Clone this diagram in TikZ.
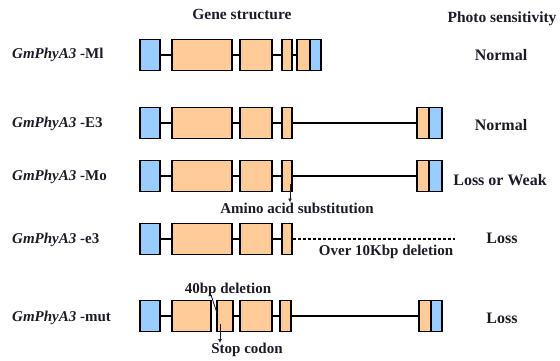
\documentclass[tikz,border=0pt]{standalone}
\usepackage{fontspec}
\setmainfont{Liberation Serif}
\usetikzlibrary{arrows.meta}
\definecolor{exonor}{HTML}{FFCC99}
\definecolor{utrblue}{HTML}{99CCFF}
\definecolor{txt}{HTML}{1E1A2A}
\tikzset{
  exon/.style={draw=black, line width=1.6pt, fill=exonor, minimum height=31pt, inner sep=0pt},
  utr/.style={exon, fill=utrblue},
  intron/.style={draw=black, line width=1.3pt},
  lbl/.style={font=\fontsize{15}{17}\selectfont\bfseries, text=txt, anchor=west, inner sep=0pt},
  hdr/.style={font=\fontsize{15.5}{17}\selectfont\bfseries, text=txt, inner sep=0pt},
  phen/.style={font=\fontsize{16}{18}\selectfont\bfseries, text=txt, inner sep=0pt},
  note/.style={font=\fontsize{15}{17}\selectfont\bfseries, text=txt, inner sep=0pt},
  pointer/.style={draw=txt, line width=0.9pt, -{Latex[length=4pt,width=4pt]}}
}
\begin{document}
\begin{tikzpicture}[x=1pt,y=-1pt]
\useasboundingbox (0,0) rectangle (560,361);
% headers
\node[hdr] (h1) at (242,14) {Gene structure};
\node[hdr] (h2) at (502,19) {Photo sensitivity};
% row labels
\node[lbl] (l1) at (12,55) {\textit{GmPhyA3} -Ml};
\node[lbl] (l2) at (12,124) {\textit{GmPhyA3} -E3};
\node[lbl] (l3) at (12,177) {\textit{GmPhyA3} -Mo};
\node[lbl] (l4) at (12,240) {\textit{GmPhyA3} -e3};
\node[lbl] (l5) at (12,318) {\textit{GmPhyA3} -mut};
% phenotypes
\node[phen] (p1) at (501,55) {Normal};
\node[phen] (p2) at (501,125) {Normal};
\node[phen] (p3) at (500,180) {Loss or Weak};
\node[phen] (p4) at (502,238) {Loss};
\node[phen] (p5) at (502,318) {Loss};
% row 1
\node[utr,  minimum width=20pt] (b1a) at (150,55) {};
\node[exon, minimum width=60pt] (o1a) at (202,55) {};
\node[exon, minimum width=32pt] (o1b) at (256,55) {};
\node[exon, minimum width=10pt] (o1c) at (287,55) {};
\node[exon, minimum width=13pt] (o1d) at (303.5,55) {};
\node[utr,  minimum width=11pt] (b1b) at (315.5,55) {};
\draw[intron] (b1a.east) -- (o1a.west) (o1a.east) -- (o1b.west) (o1b.east) -- (o1c.west) (o1c.east) -- (o1d.west);
% row 2
\node[utr,  minimum width=20pt] (b2a) at (150,123) {};
\node[exon, minimum width=60pt] (o2a) at (202,123) {};
\node[exon, minimum width=32pt] (o2b) at (256,123) {};
\node[exon, minimum width=10pt] (o2c) at (287,123) {};
\node[exon, minimum width=12pt] (o2d) at (423,123) {};
\node[utr,  minimum width=13pt] (b2b) at (435.5,123) {};
\draw[intron] (b2a.east) -- (o2a.west) (o2a.east) -- (o2b.west) (o2b.east) -- (o2c.west) (o2c.east) -- (o2d.west);
% row 3
\node[utr,  minimum width=20pt] (b3a) at (150,176) {};
\node[exon, minimum width=60pt] (o3a) at (202,176) {};
\node[exon, minimum width=32pt] (o3b) at (256,176) {};
\node[exon, minimum width=10pt] (o3c) at (287,176) {};
\node[exon, minimum width=12pt] (o3d) at (423,176) {};
\node[utr,  minimum width=13pt] (b3b) at (435.5,176) {};
\draw[intron] (b3a.east) -- (o3a.west) (o3a.east) -- (o3b.west) (o3b.east) -- (o3c.west) (o3c.east) -- (o3d.west);
\coordinate (aa0) at (290,184);
\node[note] (aa) at (297,208) {Amino acid substitution};
\draw[pointer] (aa0) -- (aa.north -| aa0);
% row 4
\node[utr,  minimum width=20pt] (b4a) at (150,239) {};
\node[exon, minimum width=60pt] (o4a) at (202,239) {};
\node[exon, minimum width=32pt] (o4b) at (256,239) {};
\node[exon, minimum width=10pt] (o4c) at (287,239) {};
\draw[intron] (b4a.east) -- (o4a.west) (o4a.east) -- (o4b.west) (o4b.east) -- (o4c.west);
\coordinate (del) at (455,239);
\draw[intron, dashed, dash pattern=on 3pt off 2pt] (o4c.east) -- (del);
\node[note] (ov) at (386,252) {Over 10Kbp deletion};
% row 5
\node[utr,  minimum width=20pt] (b5a) at (150,316) {};
\node[exon, minimum width=39pt] (o5a) at (191.5,316) {};
\node[exon, minimum width=16pt] (o5b) at (225,316) {};
\node[exon, minimum width=32pt] (o5c) at (256,316) {};
\node[exon, minimum width=11pt] (o5d) at (285.5,316) {};
\node[exon, minimum width=12pt] (o5e) at (425,316) {};
\node[utr,  minimum width=11pt] (b5b) at (436.5,316) {};
\draw[intron] (b5a.east) -- (o5a.west) (o5b.east) -- (o5c.west) (o5c.east) -- (o5d.west) (o5d.east) -- (o5e.west);
\node[note] (d40) at (228,290) {40bp deletion};
\coordinate (g1) at (211,295);
\coordinate (g2) at (217,313);
\draw[draw=txt, line width=0.8pt] (g1) -- (g2);
\node[note] (sc) at (247,350) {Stop codon};
\coordinate (sc0) at (220,324);
\draw[pointer] (sc0) -- (sc.north -| sc0);
\end{tikzpicture}
\end{document}
